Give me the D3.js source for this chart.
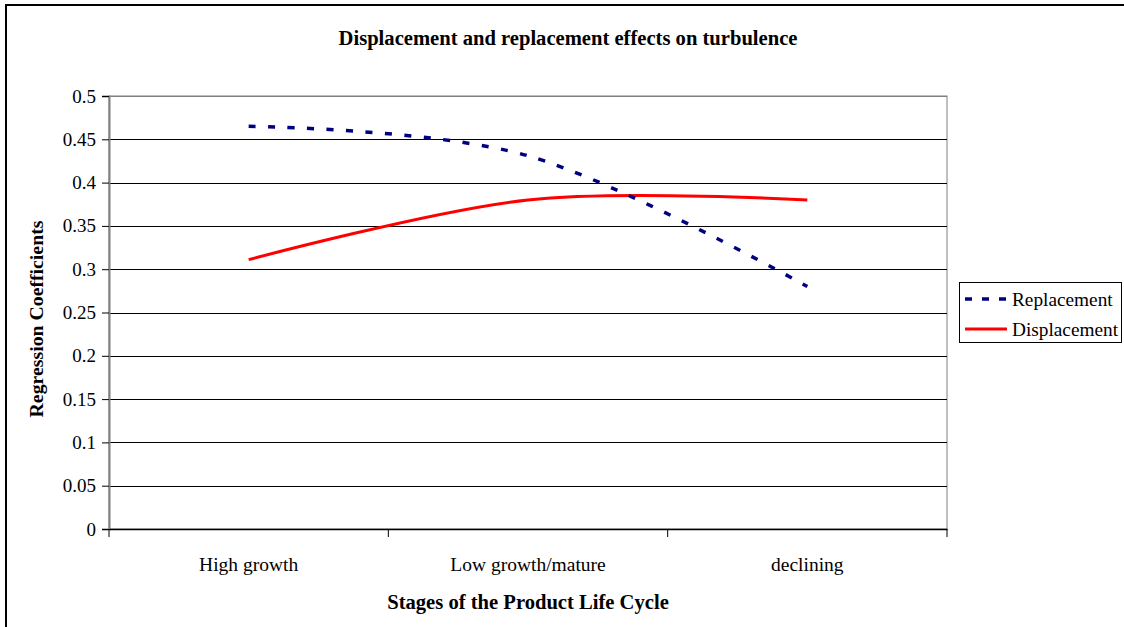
<!DOCTYPE html>
<html><head><meta charset="utf-8">
<script src="https://cdn.jsdelivr.net/npm/d3@7"></script>
<style>body{margin:0;background:#fff}svg{display:block}text{font-family:"Liberation Serif","Times New Roman",serif}</style>
</head><body><svg id="c" width="1124" height="627"></svg>
<script>
const categories = ["High growth", "Low growth/mature", "declining"];
const replacement = [0.465, 0.431, 0.280];
const displacement = [0.311, 0.380, 0.380];
const yTicks = [0, 0.05, 0.1, 0.15, 0.2, 0.25, 0.3, 0.35, 0.4, 0.45, 0.5];
const seriesNames = ["Replacement", "Displacement"];

const svg = d3.select("#c");
const L = 109, R = 947, T = 96, B = 529;
svg.append("rect").attr("x", 6).attr("y", 5).attr("width", 1140).attr("height", 650)
  .attr("fill", "none").attr("stroke", "#000").attr("stroke-width", 2);

const x = d3.scaleBand().domain(categories).range([L, R]);
const y = d3.scaleLinear().domain([0, 0.5]).range([B, T]);

svg.append("rect").attr("x", L).attr("y", T).attr("width", R - L).attr("height", B - T)
  .attr("fill", "none").attr("stroke", "#808080").attr("stroke-width", 1);

svg.append("g").selectAll("line").data(yTicks.filter(d => d > 0)).join("line")
  .attr("x1", L).attr("x2", R).attr("y1", d => Math.round(y(d)) + 0.5).attr("y2", d => Math.round(y(d)) + 0.5)
  .attr("stroke", d => d === 0.5 ? "#808080" : "#000").attr("stroke-width", 1);

const serif = "Liberation Serif, Times New Roman, serif";
const yAxis = d3.axisLeft(y).tickValues(yTicks).tickFormat(d => String(d)).tickSize(7).tickPadding(6);
const gy = svg.append("g").attr("transform", `translate(${L},0)`).call(yAxis)
  .attr("font-family", serif).attr("font-size", 19);
gy.select(".domain").attr("stroke", "#808080").attr("stroke-width", 2);
gy.selectAll(".tick line").attr("stroke", "#000");
gy.selectAll(".tick text").attr("fill", "#000");

const xAxis = d3.axisBottom(x).tickSize(0).tickPadding(28);
const gx = svg.append("g").attr("transform", `translate(0,${B})`).call(xAxis)
  .attr("font-family", serif).attr("font-size", 19.5);
gx.select(".domain").attr("stroke", "#000").attr("stroke-width", 1.5);
gx.selectAll(".tick text").attr("fill", "#000");
const bounds = categories.map(c => x(c)).concat([x(categories[categories.length - 1]) + x.bandwidth()]);
svg.append("g").selectAll("line").data(bounds).join("line")
  .attr("x1", d => d).attr("x2", d => d).attr("y1", B).attr("y2", B + 8)
  .attr("stroke", "#000").attr("stroke-width", 1);

const line = d3.line().x((d, i) => x(categories[i]) + x.bandwidth() / 2).y(d => y(d))
  .curve(d3.curveCardinal.tension(0));
svg.append("path").datum(displacement).attr("d", line).attr("fill", "none")
  .attr("stroke", "#ff0000").attr("stroke-width", 3);
svg.append("path").datum(replacement).attr("d", line).attr("fill", "none")
  .attr("stroke", "#000080").attr("stroke-width", 3.5).attr("stroke-dasharray", "7,12.5");

svg.append("text").attr("x", 568).attr("y", 45).attr("text-anchor", "middle")
  .attr("font-size", 20.6).attr("font-weight", "bold").text("Displacement and replacement effects on turbulence");
svg.append("text").attr("x", 528).attr("y", 609).attr("text-anchor", "middle")
  .attr("font-size", 20.6).attr("font-weight", "bold").text("Stages of the Product Life Cycle");
svg.append("text").attr("transform", "translate(43,319) rotate(-90)").attr("text-anchor", "middle")
  .attr("font-size", 19.8).attr("font-weight", "bold").text("Regression Coefficients");

const lg = svg.append("g");
lg.append("rect").attr("x", 959.5).attr("y", 282.5).attr("width", 162).attr("height", 60)
  .attr("fill", "#fff").attr("stroke", "#000").attr("stroke-width", 1);
const legendItems = [
  {name: seriesNames[0], color: "#000080", dash: "7,10", w: 3.5, yy: 299},
  {name: seriesNames[1], color: "#ff0000", dash: null, w: 3, yy: 329}
];
legendItems.forEach(it => {
  lg.append("line").attr("x1", 965).attr("x2", 1007).attr("y1", it.yy).attr("y2", it.yy)
    .attr("stroke", it.color).attr("stroke-width", it.w).attr("stroke-dasharray", it.dash);
  lg.append("text").attr("x", 1012).attr("y", it.yy + 7).attr("font-size", 19.3).text(it.name);
});
</script></body></html>
